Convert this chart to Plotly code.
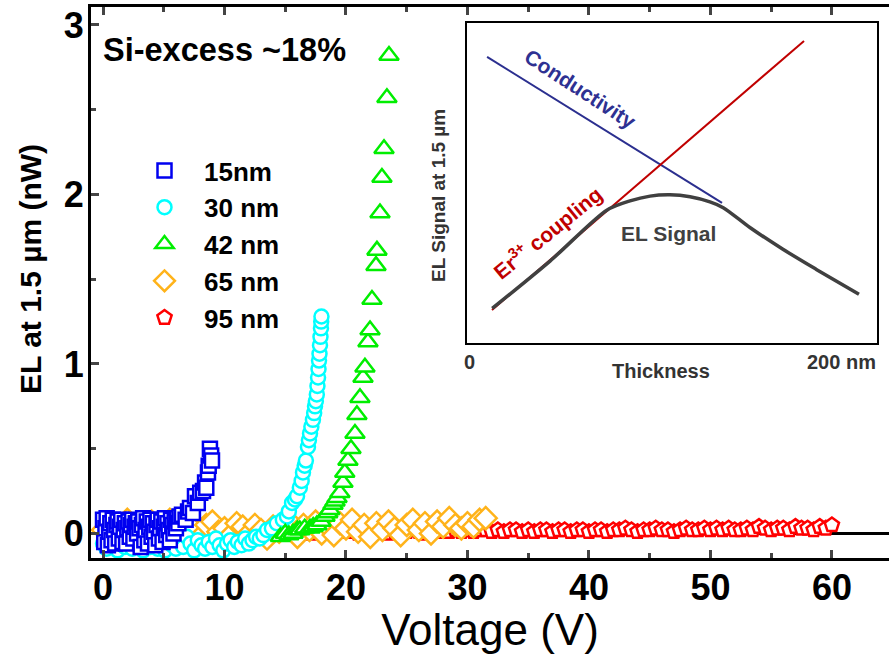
import plotly.graph_objects as go

# ---------------- data ----------------
blue_x = [0.0, 0.1, 0.2, 0.3, 0.4, 0.5, 0.6, 0.7, 0.8, 0.9,
          1.0, 1.1, 1.2, 1.3, 1.4, 1.5, 1.6, 1.7, 1.8, 1.9,
          2.0, 2.1, 2.2, 2.3, 2.4, 2.5, 2.6, 2.7, 2.8, 2.9,
          3.0, 3.1, 3.2, 3.3, 3.4, 3.5, 3.6, 3.7, 3.8, 3.9,
          4.0, 4.1, 4.2, 4.3, 4.4, 4.5, 4.6, 4.7, 4.8, 4.9,
          5.0, 5.1, 5.2, 5.3, 5.4, 5.5, 5.6, 5.7, 5.8, 5.9,
          6.0, 6.1, 6.2, 6.3,
          6.5, 6.8, 7.0, 7.16, 7.4, 7.57, 7.8, 8.0, 8.23, 8.4, 8.5, 8.64, 8.7, 8.8, 8.9, 8.97]
blue_y = [0.08, -0.05, 0.03, 0.09, -0.07, 0.01, 0.06, -0.04, 0.08, 0.02,
          -0.06, 0.05, 0.07, -0.03, 0.04, 0.08, -0.05, 0.02, 0.06, -0.06,
          0.03, 0.07, -0.02, 0.05, 0.08, -0.03, 0.04, 0.06, 0.00, 0.07,
          0.03, -0.08, 0.05, 0.09, -0.04, 0.02, 0.07, -0.06, 0.04, 0.08,
          -0.02, 0.06, 0.01, -0.07, 0.05, 0.08, -0.03, 0.03, 0.07, -0.05,
          0.04, 0.09, -0.01, 0.06, 0.02, -0.04, 0.08, 0.05, 0.00, 0.07,
          0.03, 0.09, 0.06, 0.10,
          0.11, 0.08, 0.13, 0.15, 0.12, 0.22, 0.18, 0.24, 0.25, 0.30, 0.27, 0.36, 0.40, 0.50, 0.46, 0.43]

cyan_x = [0.0, 0.3, 0.6, 0.9, 1.2, 1.5, 1.8, 2.1, 2.4, 2.7, 3.0, 3.3, 3.6, 3.9, 4.2, 4.5,
          4.8, 5.1, 5.4, 5.7, 6.0, 6.3, 6.6, 6.9, 7.2, 7.5, 7.8, 8.1, 8.4, 8.7, 9.0, 9.3,
          9.6, 9.9, 10.2, 10.5, 10.8, 11.1, 11.4, 11.7, 12.0, 12.3, 12.6, 12.9,
          13.2, 13.5, 13.9, 14.3, 14.8, 15.14, 15.3, 15.56, 15.8, 15.97, 16.2, 16.35, 16.46,
          16.6, 16.7, 16.87, 16.95, 17.04, 17.15, 17.28, 17.38, 17.45, 17.52, 17.6, 17.65,
          17.7, 17.74, 17.78, 17.82, 17.86, 17.9, 17.94, 17.96, 17.98]
cyan_y = [-0.06, -0.09, -0.03, -0.07, -0.10, -0.04, -0.08, -0.05, -0.09, -0.02,
          -0.07, -0.10, -0.05, -0.08, -0.03, -0.09, -0.06, -0.10, -0.04, -0.07,
          -0.09, -0.05, -0.08, -0.02, -0.06, -0.10, -0.04, -0.07, -0.09, -0.05,
          -0.08, -0.03, -0.07, -0.10, -0.06, -0.04, -0.08, -0.05, -0.07, -0.03,
          -0.06, -0.04, -0.02, -0.03,
          -0.01, 0.02, 0.03, 0.06, 0.08, 0.10, 0.13, 0.18, 0.20, 0.22, 0.27, 0.31, 0.36,
          0.40, 0.43, 0.51, 0.55, 0.59, 0.63, 0.67, 0.71, 0.75, 0.78, 0.82, 0.87,
          0.92, 0.97, 1.02, 1.06, 1.11, 1.16, 1.21, 1.25, 1.28]

green_x = [14.6, 15.0, 15.3, 15.64, 16.0, 16.2, 16.6, 17.04, 17.3, 17.6,
           17.95, 18.27, 18.5, 18.68, 18.93, 19.1, 19.26, 19.5, 19.75, 19.9,
           20.16, 20.41, 20.74, 20.9, 21.15, 21.4, 21.56, 21.81, 21.98, 22.14,
           22.47, 22.55, 22.8, 22.96, 23.13, 23.37, 23.54]
green_y = [-0.02, 0.0, -0.01, 0.0, 0.02, 0.02, 0.03, 0.03, 0.04, 0.05,
           0.07, 0.10, 0.12, 0.14, 0.17, 0.19, 0.21, 0.24, 0.30, 0.36,
           0.43, 0.50, 0.59, 0.70, 0.80, 0.92, 0.98, 1.13, 1.20, 1.38,
           1.58, 1.67, 1.89, 2.10, 2.27, 2.57, 2.82]

orange_x = [0.0, 0.5, 1.0, 1.5, 2.0, 2.5, 3.0, 3.5, 4.0, 4.5,
            5.0, 5.5, 6.0, 6.5, 7.0, 7.5, 8.0, 8.5, 9.0, 9.5,
            10.0, 10.5, 11.0, 11.5, 12.0, 12.5, 13.0, 13.5, 14.0, 14.5,
            15.0, 15.5, 16.0, 16.5, 17.0, 17.5, 18.0, 18.5, 19.0, 19.5,
            20.0, 20.5, 21.0, 21.5, 22.0, 22.5, 23.0, 23.5, 24.0, 24.5,
            25.0, 25.5, 26.0, 26.5, 27.0, 27.5, 28.0, 28.5, 29.0, 29.5,
            30.0, 30.5, 31.0, 31.5]
orange_y = [0.02, 0.06, -0.02, 0.04, 0.08, 0.01, -0.03, 0.05, 0.07, 0.00,
            0.04, 0.08, -0.01, 0.03, 0.06, 0.02, -0.02, 0.05, 0.07, 0.01,
            0.03, -0.01, 0.06, 0.04, 0.00, 0.05, 0.02, -0.03, 0.04, 0.01,
            0.03, 0.06, -0.02, 0.05, 0.02, 0.07, 0.00, 0.04, -0.01, 0.06,
            0.03, 0.08, 0.01, 0.05, -0.02, 0.06, 0.02, 0.07, 0.03, -0.01,
            0.05, 0.08, 0.02, 0.06, 0.00, 0.07, 0.04, 0.09, 0.05, 0.03,
            0.06, 0.04, 0.08, 0.09]

red_x = [15.0, 15.5, 16.0, 16.5, 17.0, 17.5, 18.0, 18.5, 19.0, 19.5,
         20.0, 20.5, 21.0, 21.5, 22.0, 22.5, 23.0, 23.5, 24.0, 24.5,
         25.0, 25.5, 26.0, 26.5, 27.0, 27.5, 28.0, 28.5, 29.0, 29.5,
         30.0, 30.5, 31.0, 31.5, 32.0, 32.5, 33.0, 33.5, 34.0, 34.5,
         35.0, 35.5, 36.0, 36.5, 37.0, 37.5, 38.0, 38.5, 39.0, 39.5,
         40.0, 40.5, 41.0, 41.5, 42.0, 42.5, 43.0, 43.5, 44.0, 44.5,
         45.0, 45.5, 46.0, 46.5, 47.0, 47.5, 48.0, 48.5, 49.0, 49.5,
         50.0, 50.5, 51.0, 51.5, 52.0, 52.5, 53.0, 53.5, 54.0, 54.5,
         55.0, 55.5, 56.0, 56.5, 57.0, 57.5, 58.0, 58.5, 59.0, 59.5,
         60.0]
red_y = [0.00, 0.01, -0.01, 0.00, 0.01, 0.00, 0.02, 0.01, 0.00, 0.01,
         0.02, 0.01, 0.00, 0.02, 0.01, 0.01, 0.02, 0.00, 0.01, 0.02,
         0.01, 0.02, 0.01, 0.00, 0.02, 0.01, 0.02, 0.01, 0.02, 0.01,
         0.02, 0.01, 0.02, 0.02, 0.01, 0.02, 0.01, 0.02, 0.02, 0.01,
         0.02, 0.01, 0.02, 0.02, 0.01, 0.02, 0.02, 0.01, 0.02, 0.02,
         0.01, 0.02, 0.02, 0.01, 0.02, 0.02, 0.03, 0.02, 0.01, 0.02,
         0.02, 0.03, 0.02, 0.02, 0.01, 0.02, 0.03, 0.02, 0.02, 0.03,
         0.02, 0.03, 0.02, 0.03, 0.02, 0.02, 0.03, 0.02, 0.04, 0.03,
         0.02, 0.03, 0.03, 0.02, 0.04, 0.03, 0.03, 0.02, 0.04, 0.03,
         0.05]

series_names = ["15nm", "30 nm", "42 nm", "65 nm", "95 nm"]
x_ticks = [0, 10, 20, 30, 40, 50, 60]
y_ticks = [0, 1, 2, 3]

# inset schematic (thickness in nm, arbitrary signal units)
inset_cond_x = [9.8, 124.4]
inset_cond_y = [89.4, 43.8]
inset_coup_x = [12.2, 164.4]
inset_coup_y = [10.3, 94.4]
inset_el_x = [12.3, 40.5, 68.2, 79.5, 89.3, 99.0, 108.8, 118.5, 125.0, 138.0, 154.1, 170.4, 191.2]
inset_el_y = [10.8, 25.6, 41.5, 44.4, 45.9, 46.3, 45.7, 44.1, 42.3, 36.1, 29.3, 23.0, 15.2]

# ---------------- styling ----------------
FONT = "Liberation Sans, Arial, Helvetica, sans-serif"
W, H = 889, 654
L, R, T, B = 91, 0, 7, 96
PW, PH = W - L - R, H - T - B


def px(xp):
    return (xp - L) / PW


def py(yp):
    return (H - B - yp) / PH


fig = go.Figure()

styles = [
    (blue_x, blue_y, "square", "#0000F0", 14),
    (cyan_x, cyan_y, "circle", "#00FFFF", 14),
    (green_x, green_y, "triangle-up", "#00EE00", 17),
    (orange_x, orange_y, "diamond", "#FFB31A", 17),
    (red_x, red_y, "pentagon", "#FF0000", 15),
]
# stacking order as in the reference: red, orange, cyan, green, blue on top
order = [4, 3, 1, 2, 0]
for i in order:
    xs, ys, sym, col, sz = styles[i]
    fig.add_trace(go.Scatter(
        x=xs, y=ys, mode="markers", name=series_names[i],
        legendrank=i + 1,
        marker=dict(symbol=sym, size=sz, color="white",
                    line=dict(color=col, width=2.5)),
        xaxis="x", yaxis="y",
    ))

# inset
fig.add_trace(go.Scatter(x=inset_cond_x, y=inset_cond_y, mode="lines",
                         line=dict(color="#2B2F8F", width=2), showlegend=False,
                         xaxis="x2", yaxis="y2"))
fig.add_trace(go.Scatter(x=inset_coup_x, y=inset_coup_y, mode="lines",
                         line=dict(color="#C00000", width=2), showlegend=False,
                         xaxis="x2", yaxis="y2"))
fig.add_trace(go.Scatter(x=inset_el_x, y=inset_el_y, mode="lines",
                         line=dict(color="#404040", width=3.5, shape="spline", smoothing=0.8),
                         showlegend=False, xaxis="x2", yaxis="y2"))

tickfont = dict(family=FONT, size=36, color="black", weight="bold")
fig.update_layout(
    width=W, height=H,
    margin=dict(l=L, r=R, t=T, b=B, autoexpand=False),
    paper_bgcolor="white", plot_bgcolor="white",
    font=dict(family=FONT, color="black"),
    xaxis=dict(
        range=[-0.99, 64.7], tickvals=x_ticks, ticks="inside", ticklen=8, tickwidth=3,
        showline=True, linewidth=3, linecolor="black", mirror="ticks",
        showgrid=False, zeroline=False, tickfont=tickfont, ticklabelstandoff=-4,
        minor=dict(dtick=5, tick0=0, ticks="inside", ticklen=5, tickwidth=3, showgrid=False),
        title=dict(text="Voltage (V)", font=dict(family=FONT, size=44, color="black"), standoff=0),
    ),
    yaxis=dict(
        range=[-0.145, 3.106], tickvals=y_ticks, ticks="inside", ticklen=8, tickwidth=3,
        showline=True, linewidth=3, linecolor="black", mirror=False,
        showgrid=False, zeroline=False, tickfont=tickfont, ticklabelstandoff=-3,
        minor=dict(dtick=0.5, tick0=0, ticks="inside", ticklen=5, tickwidth=3, showgrid=False),
    ),
    xaxis2=dict(domain=[px(467), px(877)], anchor="y2", range=[0, 200],
                showline=True, mirror=True, linewidth=2, linecolor="black",
                showticklabels=False, ticks="", showgrid=False, zeroline=False),
    yaxis2=dict(domain=[py(343), py(23)], anchor="x2", range=[0, 100],
                showline=True, mirror=True, linewidth=2, linecolor="black",
                showticklabels=False, ticks="", showgrid=False, zeroline=False),
    legend=dict(x=px(125), y=py(147), xanchor="left", yanchor="top",
                bgcolor="rgba(0,0,0,0)", itemwidth=69,
                font=dict(family=FONT, size=26, color="black", weight="bold")),
    showlegend=True,
)

# black zero line (visible beyond the data at the right)
fig.add_shape(type="line", xref="paper", yref="y", x0=0, x1=1, y0=0, y1=0,
              line=dict(color="black", width=3), layer="below")

ann = [
    dict(text="EL at 1.5 µm (nW)", x=px(30), y=py(269), textangle=-90,
         font=dict(size=30, weight="bold", color="black")),
    dict(text="Si-excess ~18%", x=px(101), y=py(50), xanchor="left", yanchor="middle",
         font=dict(size=32.5, weight="bold", color="black")),
    dict(text="Conductivity", x=px(580), y=py(88), textangle=33,
         font=dict(size=21, weight="bold", color="#2E3192")),
    dict(text="Er<sup>3+</sup> coupling", x=px(547), y=py(232), textangle=-39,
         font=dict(size=21, weight="bold", color="#C00000")),
    dict(text="EL Signal", x=px(668), y=py(233),
         font=dict(size=21, weight="bold", color="#404040")),
    dict(text="Thickness", x=px(661), y=py(371),
         font=dict(size=20, weight="bold", color="#333333")),
    dict(text="0", x=px(469), y=py(362),
         font=dict(size=20, weight="bold", color="#333333")),
    dict(text="200 nm", x=px(878), y=py(362), xanchor="right",
         font=dict(size=20, weight="bold", color="#333333")),
    dict(text="EL Signal at 1.5 µm", x=px(438), y=py(196), textangle=-90,
         font=dict(size=19, weight="bold", color="#333333")),
]
for a in ann:
    a.setdefault("xanchor", "center")
    a.setdefault("yanchor", "middle")
    a["font"]["family"] = FONT
    fig.add_annotation(xref="paper", yref="paper", showarrow=False, **a)

# the page's default body margin would shift the 889x654 figure; remove it
fig.write_html("out.html", config={"displayModeBar": False},
               post_script="document.body.style.margin='0px';")
